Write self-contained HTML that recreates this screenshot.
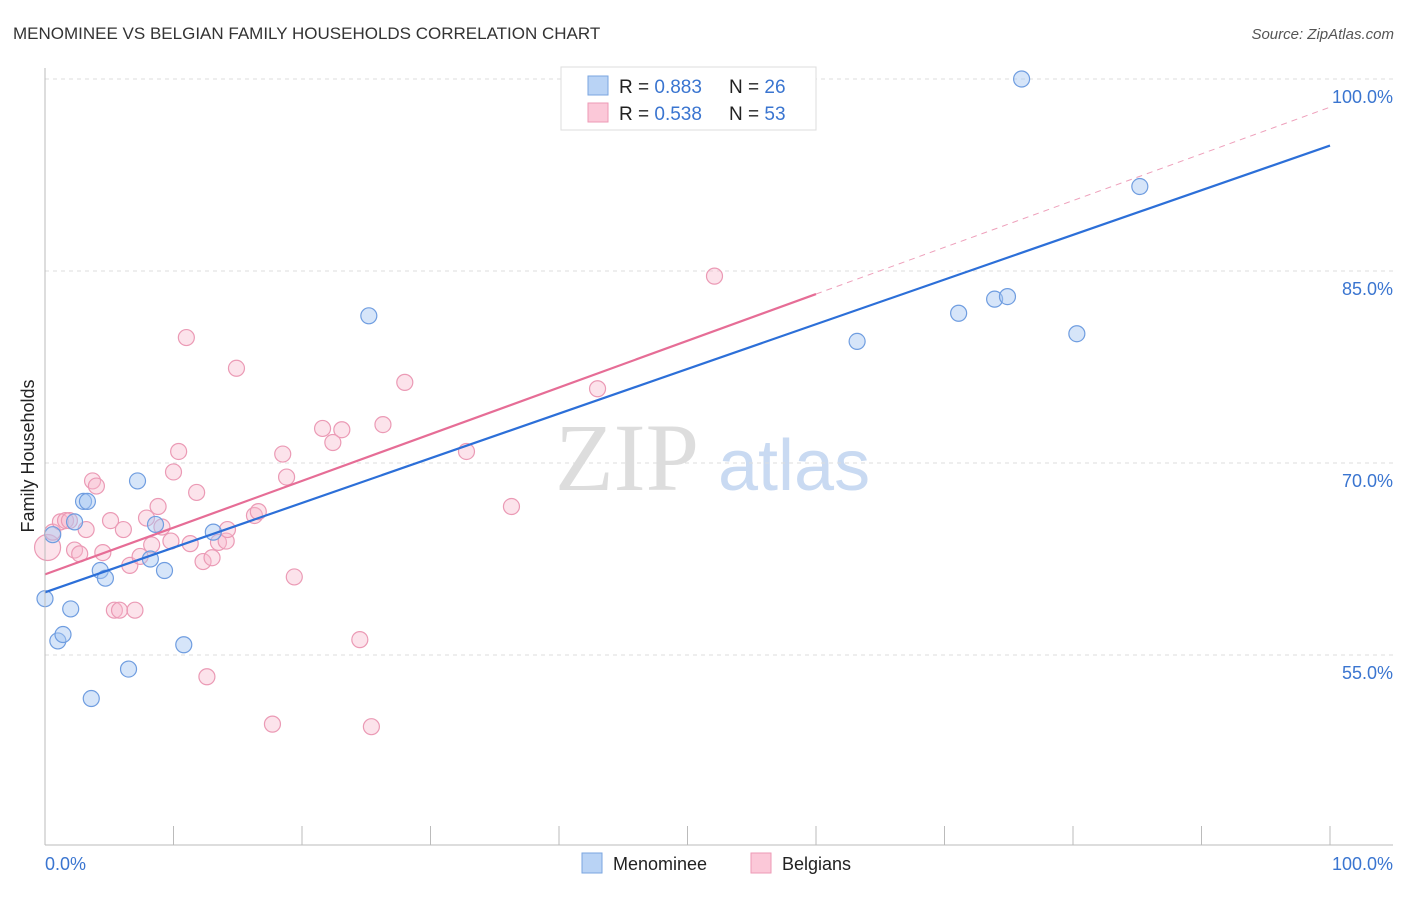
<!DOCTYPE html>
<html><head><meta charset="utf-8"><style>
body{margin:0;background:#fff;font-family:"Liberation Sans",sans-serif;}
</style></head><body>
<svg id="c" width="1406" height="892" xmlns="http://www.w3.org/2000/svg">
<text x="13" y="39" font-size="17" fill="#333">MENOMINEE VS BELGIAN FAMILY HOUSEHOLDS CORRELATION CHART</text>
<text x="1394" y="39" font-size="15" fill="#555" font-style="italic" text-anchor="end">Source: ZipAtlas.com</text>
<text x="555" y="490" font-size="96" fill="#ddd" font-family="Liberation Serif,serif">ZIP</text>
<text x="718" y="490" font-size="72" fill="#c9daf2">atlas</text>
<text transform="translate(34,456) rotate(-90)" font-size="18" fill="#222" text-anchor="middle">Family Households</text>
<g id="grid"></g><g id="marks"></g><g id="lines"></g>
<line x1="45" y1="68" x2="45" y2="845" stroke="#bbb"/>
<line x1="45" y1="845" x2="1393" y2="845" stroke="#bbb"/>
<text x="45" y="870" font-size="18" fill="#3a75d0">0.0%</text>
<text x="1393" y="870" font-size="18" fill="#3a75d0" text-anchor="end">100.0%</text>
<g>
<rect x="561" y="67" width="255" height="63" fill="#fff" stroke="#ddd"/>
<rect x="588" y="76" width="20" height="19" fill="#b9d3f5" stroke="#7aa6e0"/>
<rect x="588" y="103" width="20" height="19" fill="#fbc8d8" stroke="#ee9ab6"/>
<text x="619" y="93" font-size="19" fill="#222">R = <tspan fill="#3a75d0">0.883</tspan><tspan x="729">N = </tspan><tspan fill="#3a75d0">26</tspan></text>
<text x="619" y="120" font-size="19" fill="#222">R = <tspan fill="#3a75d0">0.538</tspan><tspan x="729">N = </tspan><tspan fill="#3a75d0">53</tspan></text>
</g>
<g>
<rect x="582" y="853" width="20" height="20" fill="#b9d3f5" stroke="#7aa6e0"/>
<text x="613" y="870" font-size="18" fill="#222">Menominee</text>
<rect x="751" y="853" width="20" height="20" fill="#fbc8d8" stroke="#ee9ab6"/>
<text x="782" y="870" font-size="18" fill="#222">Belgians</text>
</g>
</svg>
<script>
const blueX=[0,0.6,1.0,1.4,2.0,2.3,3.0,3.3,3.6,4.3,4.7,6.5,7.2,8.2,8.6,9.3,10.8,13.1,25.2,63.2,71.1,73.9,74.9,76.0,80.3,85.2];
const blueY=[59.4,64.4,56.1,56.6,58.6,65.4,67.0,67.0,51.6,61.6,61.0,53.9,68.6,62.5,65.2,61.6,55.8,64.6,81.5,79.5,81.7,82.8,83.0,100.0,80.1,91.6];
const pinkX=[0.2,0.6,1.2,1.6,1.9,2.3,2.7,3.2,3.7,4.0,4.5,5.1,5.4,5.8,6.1,6.6,7.0,7.4,7.9,8.3,8.8,9.1,9.8,10.0,10.4,11.0,11.3,11.8,12.3,12.6,13.0,13.5,14.1,14.2,14.9,16.3,16.6,17.7,18.5,18.8,19.4,21.6,22.4,23.1,24.5,25.4,26.3,28.0,32.8,36.3,43.0,52.1];
const pinkY=[63.4,64.6,65.4,65.5,65.5,63.2,62.9,64.8,68.6,68.2,63.0,65.5,58.5,58.5,64.8,62.0,58.5,62.7,65.7,63.6,66.6,65.0,63.9,69.3,70.9,79.8,63.7,67.7,62.3,53.3,62.6,63.8,63.9,64.8,77.4,65.9,66.2,49.6,70.7,68.9,61.1,72.7,71.6,72.6,56.2,49.4,73.0,76.3,70.9,66.6,75.8,84.6];
const blueTrend=[59.9,94.8];   // trend value at x=0% and x=100%
const pinkTrend=[61.3,97.8];
const yTicks=[55,70,85,100];
const yTickLabels=["55.0%","70.0%","85.0%","100.0%"];
const xTicks=[0,10,20,30,40,50,60,70,80,90,100];
const NS="http://www.w3.org/2000/svg";
const sx=v=>45+v*12.85, sy=v=>463-(v-70)*12.8;
function mk(t,a,p){const e=document.createElementNS(NS,t);for(const k in a)e.setAttribute(k,a[k]);document.getElementById(p).appendChild(e);return e;}
yTicks.forEach((v,i)=>{
 const l=mk('line',{x1:45,x2:1393,y1:sy(v),y2:sy(v),stroke:'#ddd','stroke-dasharray':'4,4'},'grid');
 
 
 const t=mk('text',{x:1393,y:sy(v)+24,'font-size':18,fill:'#3a75d0','text-anchor':'end'},'grid');
 t.textContent=yTickLabels[i];
 
 
});
xTicks.forEach(v=>{
 const l=mk('line',{x1:sx(v),x2:sx(v),y1:826,y2:845,stroke:'#bbb'},'grid');
 
 
});
function pts(X,Y,fill,stroke,name){X.forEach((x,i)=>{
 const c=mk('circle',{cx:sx(x),cy:sy(Y[i]),r:(name==='belgians-point'&&i===0)?13:8,fill:fill,stroke:stroke,'stroke-width':1.2},'marks');
 
 
});}
pts(pinkX,pinkY,'rgba(248,185,205,0.4)','#eb9ab5','belgians-point');
pts(blueX,blueY,'rgba(165,198,242,0.45)','#6f9de0','menominee-point');
const tv=(t,x)=>t[0]+(t[1]-t[0])*x/100;
let l=mk('line',{x1:sx(0),y1:sy(tv(blueTrend,0)),x2:sx(100),y2:sy(tv(blueTrend,100)),stroke:'#2c6fd8','stroke-width':2.2},'lines');


l=mk('line',{x1:sx(0),y1:sy(tv(pinkTrend,0)),x2:sx(60),y2:sy(tv(pinkTrend,60)),stroke:'#e66d96','stroke-width':2.2},'lines');


l=mk('line',{x1:sx(60),y1:sy(tv(pinkTrend,60)),x2:sx(100),y2:sy(tv(pinkTrend,100)),stroke:'#eea0bb','stroke-width':1,'stroke-dasharray':'6,5'},'lines');


</script>
</body></html>
